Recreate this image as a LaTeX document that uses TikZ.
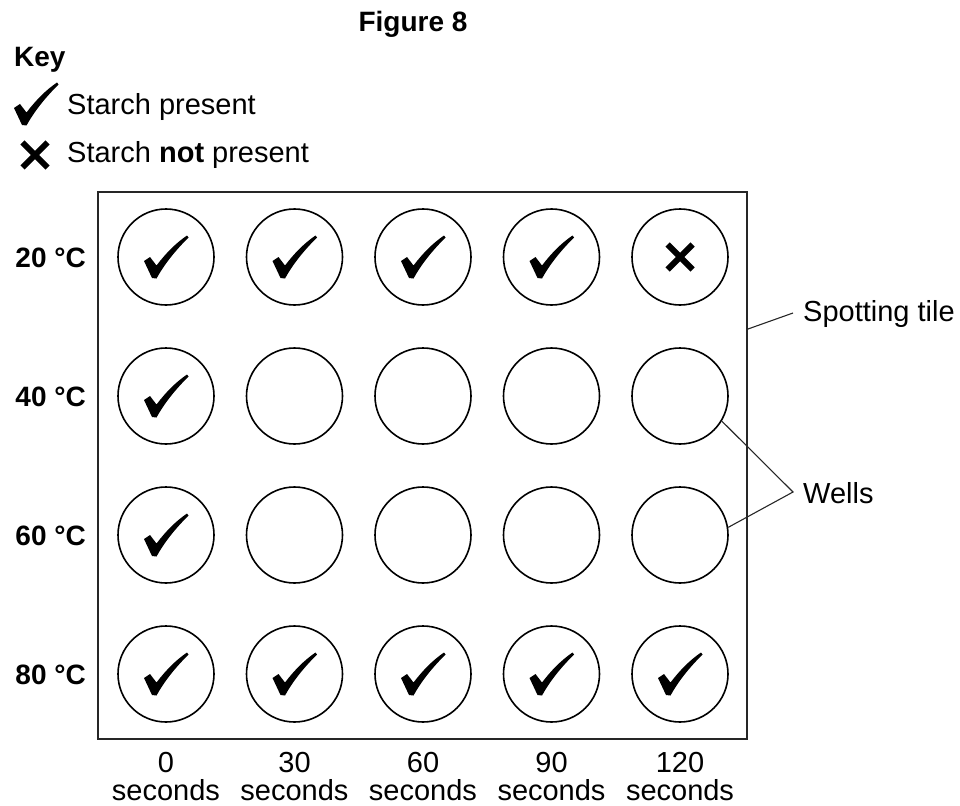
\documentclass[tikz,border=0pt]{standalone}
\usepackage{fontspec}
\setmainfont{Liberation Sans}
\begin{document}
\begin{tikzpicture}[x=1pt,y=-1pt,
  txt/.style={inner sep=0pt,font=\fontsize{29}{28}\selectfont},
  btxt/.style={inner sep=0pt,font=\fontsize{28}{30}\selectfont\bfseries},
  well/.style={circle,draw=black,line width=1.6pt,minimum size=96pt,inner sep=0pt},
  tilebox/.style={draw=black!85,line width=2pt,inner sep=0pt},
  leader/.style={draw=black!85,line width=1.1pt},
  chkmark/.pic={\fill[black] (-22,4) -- (-16,0) -- (-9.5,8.5) .. controls (0,-4) and (10,-14) .. (21,-21.5) -- (22.5,-19.5) .. controls (8,-5) and (-2,8) .. (-9.5,21.5) -- (-14,21) -- cycle;},
  xmark/.pic={\draw[line width=6pt,line cap=butt] (-12.5,-12.5) -- (12.5,12.5) (-12.5,12.5) -- (12.5,-12.5);}
]
\useasboundingbox (0,0) rectangle (960,805);
% title and key
\node[btxt,anchor=base] (title) at (413,32) {Figure 8};
\node[btxt,anchor=base west] (key) at (14,67) {Key};
\pic at (36,104) {chkmark};
\node[txt,anchor=base west] (k1) at (67,115) {Starch present};
\pic at (35,155) {xmark};
\node[txt,anchor=base west] (k2) at (67,163) {Starch \textbf{not} present};
% spotting tile
\node[tilebox,minimum width=649pt,minimum height=547pt] (tile) at (422.5,465.5) {};
% wells
\foreach \r/\yy in {1/257,2/396,3/535,4/674}{
  \foreach \c/\xx in {1/166,2/294.5,3/423,4/551.5,5/680}{
    \node[well] (w-\r-\c) at (\xx,\yy) {};
  }
}
% marks
\foreach \c in {1,2,3,4}{\pic at (w-1-\c) {chkmark};}
\pic at (w-1-5) {xmark};
\pic at (w-2-1) {chkmark};
\pic at (w-3-1) {chkmark};
\foreach \c in {1,...,5}{\pic at (w-4-\c) {chkmark};}
% row labels
\foreach \r/\yy/\t in {1/257/20,2/396/40,3/535/60,4/674/80}{
  \node[btxt,anchor=base east] (row-\r) at (86,\yy+10) {\t\ °C};
}
% column labels
\foreach \c/\xx/\t in {1/166/0,2/294.5/30,3/423/60,4/551.5/90,5/680/120}{
  \node[txt,anchor=base,align=center] (col-\c) at (\xx,800) {\t\\seconds};
}
% leader lines and labels
\coordinate (tp) at (tile.east |- 0,329);
\coordinate (tileend) at (793,313);
\node[txt,anchor=base west] (tilelab) at (803,321) {Spotting tile};
\draw[leader] (tp) -- (tileend);
\coordinate (wellsend) at (793,492);
\node[txt,anchor=base west] (wellslab) at (803,503) {Wells};
\draw[leader] (w-2-5.-31) -- (wellsend) -- (w-3-5.9);
\end{tikzpicture}
\end{document}
